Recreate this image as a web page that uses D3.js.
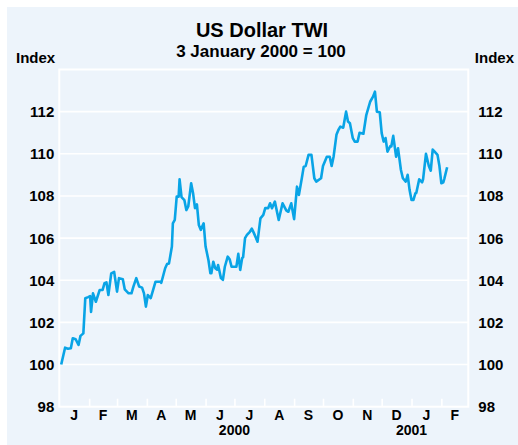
<!DOCTYPE html>
<html>
<head>
<meta charset="utf-8">
<script src="https://cdn.jsdelivr.net/npm/d3@7"></script>
<style>
  body { margin: 0; background: #fff; }
  text { font-family: "Liberation Sans", Arial, sans-serif; font-weight: bold; fill: #000; }
</style>
</head>
<body>
<div id="chart"></div>
<script>
// US Dollar TWI, 3 January 2000 = 100
var dates = ["2000-01-03","2000-01-07","2000-01-10","2000-01-13","2000-01-15","2000-01-18","2000-01-21","2000-01-23","2000-01-26","2000-01-28",
  "2000-01-31","2000-02-02","2000-02-03","2000-02-05","2000-02-08","2000-02-12","2000-02-15","2000-02-17","2000-02-19","2000-02-21",
  "2000-02-24","2000-02-27","2000-03-01","2000-03-03","2000-03-07","2000-03-09","2000-03-13","2000-03-16","2000-03-18","2000-03-21",
  "2000-03-24","2000-03-27","2000-03-29","2000-03-31","2000-04-02","2000-04-05","2000-04-10","2000-04-15","2000-04-16","2000-04-20",
  "2000-04-22","2000-04-24","2000-04-27","2000-04-28","2000-04-30","2000-05-02","2000-05-04","2000-05-05","2000-05-07","2000-05-10",
  "2000-05-12","2000-05-14","2000-05-17","2000-05-19","2000-05-21","2000-05-23","2000-05-25","2000-05-27","2000-05-30","2000-06-01",
  "2000-06-04","2000-06-06","2000-06-07","2000-06-09","2000-06-11","2000-06-13","2000-06-14","2000-06-17","2000-06-19","2000-06-21",
  "2000-06-24","2000-06-26","2000-06-28","2000-06-30","2000-07-03","2000-07-05","2000-07-07","2000-07-09","2000-07-10","2000-07-12",
  "2000-07-14","2000-07-17","2000-07-19","2000-07-21","2000-07-25","2000-07-28","2000-07-31","2000-08-02","2000-08-05","2000-08-07",
  "2000-08-09","2000-08-12","2000-08-16","2000-08-20","2000-08-24","2000-08-26","2000-08-29","2000-09-01","2000-09-04","2000-09-06",
  "2000-09-09","2000-09-11","2000-09-13","2000-09-16","2000-09-19","2000-09-22","2000-09-24","2000-09-29","2000-10-01","2000-10-05",
  "2000-10-08","2000-10-10","2000-10-12","2000-10-15","2000-10-17","2000-10-19","2000-10-22","2000-10-25","2000-10-27","2000-10-29",
  "2000-11-01","2000-11-03","2000-11-06","2000-11-08","2000-11-10","2000-11-12","2000-11-15","2000-11-19","2000-11-22","2000-11-24",
  "2000-11-26","2000-11-29","2000-12-01","2000-12-03","2000-12-05","2000-12-07","2000-12-10","2000-12-11","2000-12-13","2000-12-16",
  "2000-12-18","2000-12-21","2000-12-23","2000-12-26","2000-12-28","2000-12-30","2001-01-01","2001-01-03","2001-01-05","2001-01-06",
  "2001-01-09","2001-01-12","2001-01-13","2001-01-16","2001-01-19","2001-01-21","2001-01-23","2001-01-25","2001-01-28","2001-01-30",
  "2001-02-01","2001-02-03","2001-02-04","2001-02-07"];
var twi = [100.0,100.8,100.75,100.77,101.25,101.2,100.93,101.36,101.48,103.15,
  103.2,103.25,102.5,103.38,102.98,103.54,103.54,103.86,103.9,103.3,
  104.33,104.4,103.46,104.1,104.05,103.57,103.38,103.38,103.7,104.1,
  103.7,103.65,103.38,102.75,103.3,103.15,103.93,103.93,103.88,104.57,
  104.77,104.8,105.6,106.7,106.86,107.97,107.97,108.79,107.94,107.8,
  107.33,107.5,108.6,108.13,107.42,107.6,106.62,106.39,106.7,105.6,
  104.95,104.33,104.33,104.88,104.57,104.5,104.72,104.1,104.02,104.64,
  105.12,105.0,104.64,104.64,104.64,105.25,104.49,105.05,105.1,106.0,
  106.15,106.3,106.45,106.26,105.83,106.94,107.1,107.42,107.42,107.65,
  107.42,107.73,106.86,107.65,107.3,107.25,107.65,106.9,108.44,108.05,
  108.84,109.39,109.42,109.95,109.95,108.84,108.68,108.84,109.42,109.86,
  109.86,109.42,109.86,110.9,111.13,111.29,111.24,112.0,111.53,111.45,
  110.74,110.58,110.58,111.0,110.98,110.95,111.84,112.47,112.71,112.95,
  112.0,111.97,110.98,110.58,110.75,110.1,110.37,110.35,110.85,109.86,
  110.26,109.23,108.84,108.68,109.0,108.28,107.81,107.81,108.12,108.15,
  108.79,108.65,108.79,110.0,109.42,109.2,110.2,110.1,109.95,109.42,
  108.6,108.65,108.8,109.36];
var yTicks = [98, 100, 102, 104, 106, 108, 110, 112];
var monthLabels = ["J","F","M","A","M","J","J","A","S","O","N","D","J","F"];
var yearLabels = [{year: "2000", at: "2000-07-01"}, {year: "2001", at: "2001-01-01"}];

var W = 518, H = 445;
var margin = {top: 69.5, right: 49.7, bottom: 38.3, left: 59.3},
    w = W - margin.left - margin.right,
    h = H - margin.top - margin.bottom;

var parse = d3.timeParse("%Y-%m-%d");
var data = dates.map(function(d, i) { return {date: parse(d), value: twi[i]}; });

var svg = d3.select("#chart").append("svg")
  .attr("width", W)
  .attr("height", H);

// light blue panel
svg.append("rect")
  .attr("x", 7).attr("y", 7)
  .attr("width", W - 7).attr("height", H - 7)
  .attr("fill", "#edf4fb");

var g = svg.append("g")
  .attr("transform", `translate(${margin.left},${margin.top})`);

var x = d3.scaleTime()
  .domain([parse("2000-01-01"), parse("2001-03-01")])
  .range([0, w]);

var y = d3.scaleLinear()
  .domain([98, 114])
  .range([h, 0]);

// gridlines
g.append("g")
  .selectAll("line")
  .data(yTicks.slice(1))
  .enter()
  .append("line")
  .attr("x1", 0).attr("x2", w)
  .attr("y1", d => y(d)).attr("y2", d => y(d))
  .attr("stroke", "#fff")
  .attr("stroke-width", 1.6);

// month ticks along the bottom, pointing up
var months = d3.timeMonth.range(parse("2000-02-01"), parse("2001-03-01"));
g.append("g")
  .attr("transform", "translate(0," + h + ")")
  .call(d3.axisBottom(x).tickValues(months).tickSize(-8).tickFormat(""))
  .call(a => a.select(".domain").remove())
  .selectAll("line")
  .attr("stroke", "#fff")
  .attr("stroke-width", 1.6);

// frame
g.append("rect")
  .attr("width", w).attr("height", h)
  .attr("fill", "none")
  .attr("stroke", "#fff")
  .attr("stroke-width", 2);

// line
var line = d3.line()
  .x(d => x(d.date))
  .y(d => y(d.value));

g.append("path")
  .datum(data)
  .attr("d", line)
  .attr("fill", "none")
  .attr("stroke", "#09a4e6")
  .attr("stroke-width", 2.6)
  .attr("stroke-linejoin", "round");

// y labels, both sides
g.append("g")
  .selectAll("text")
  .data(yTicks)
  .enter()
  .append("text")
  .attr("x", -5)
  .attr("y", d => y(d))
  .attr("dy", "0.36em")
  .attr("text-anchor", "end")
  .style("font-size", "15px")
  .text(d => d);

g.append("g")
  .selectAll("text")
  .data(yTicks)
  .enter()
  .append("text")
  .attr("x", w + 10)
  .attr("y", d => y(d))
  .attr("dy", "0.36em")
  .attr("text-anchor", "start")
  .style("font-size", "15px")
  .text(d => d);

// month letters centred in each month
var monthStarts = d3.timeMonth.range(parse("2000-01-01"), parse("2001-03-01"));
g.append("g")
  .selectAll("text")
  .data(monthStarts)
  .enter()
  .append("text")
  .attr("x", d => (x(d) + x(d3.timeMonth.offset(d, 1))) / 2)
  .attr("y", h + 13)
  .attr("text-anchor", "middle")
  .style("font-size", "14px")
  .text((d, i) => monthLabels[i]);

g.append("g")
  .selectAll("text")
  .data(yearLabels)
  .enter()
  .append("text")
  .attr("x", d => x(parse(d.at)))
  .attr("y", h + 28)
  .attr("text-anchor", "middle")
  .style("font-size", "14px")
  .text(d => d.year);

// titles
svg.append("text")
  .attr("x", 262).attr("y", 36.5)
  .attr("text-anchor", "middle")
  .style("font-size", "20px")
  .text("US Dollar TWI");

svg.append("text")
  .attr("x", 261).attr("y", 57)
  .attr("text-anchor", "middle")
  .style("font-size", "17px")
  .text("3 January 2000 = 100");

svg.append("text")
  .attr("x", 16).attr("y", 62.5)
  .style("font-size", "15px")
  .text("Index");

svg.append("text")
  .attr("x", 514).attr("y", 62.5)
  .attr("text-anchor", "end")
  .style("font-size", "15px")
  .text("Index");
</script>
</body>
</html>
